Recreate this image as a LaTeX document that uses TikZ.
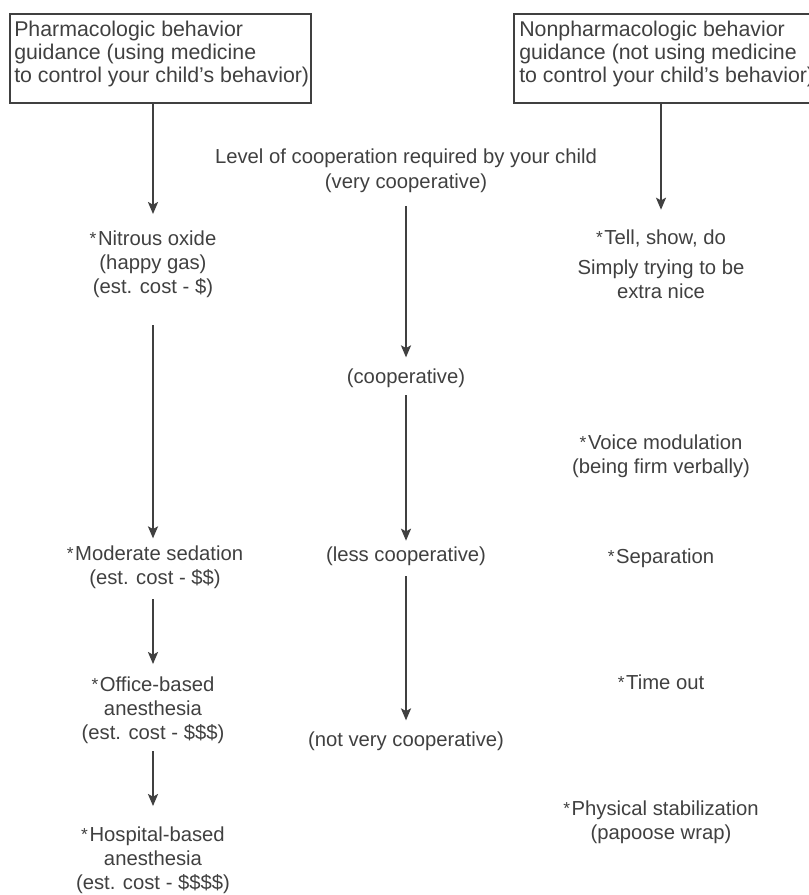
\documentclass[tikz,border=0pt]{standalone}
\usepackage{fontspec}
\setmainfont{Liberation Sans}
\usetikzlibrary{arrows.meta,calc}
\definecolor{cInk}{HTML}{404040}
\definecolor{cLine}{HTML}{404040}

% small raised asterisk in front of each technique
\newcommand{\starmark}{\raisebox{0.6pt}{\fontsize{13}{13}\selectfont *}\kern1.2pt}

\begin{document}
\begin{tikzpicture}[
  x=0.75pt, y=-0.75pt,
  font=\fontsize{15.2}{18}\selectfont,
  flow/.style={draw=cLine, line width=1.5pt,
    -{Stealth[length=9pt,width=7.5pt,inset=2pt]}},
  guidebox/.style={draw=cLine, line width=1.5pt, minimum width=225.75pt,
    minimum height=66.75pt, inner sep=0pt, outer sep=0pt},
  boxlab/.style={text=cInk, align=left, inner sep=0pt,
    font=\fontsize{16}{17.25}\selectfont},
  item/.style={text=cInk, align=center, inner sep=0pt, anchor=base},
]
\useasboundingbox (0,0) rectangle (809,895);

% ---- Guidance boxes (top) ----
% (base anchor of a multi-line node = baseline of its last line)
\node[guidebox, anchor=north west] (pharm) at (10,14) {};
\node[boxlab, anchor=base west] (pharmlab) at (14,83)
  {Pharmacologic behavior\\guidance (using medicine\\to control your child’s behavior)};

\node[guidebox, anchor=north west] (nonpharm) at (514,14) {};
\node[boxlab, anchor=base west] (nonpharmlab) at (519,83)
  {Nonpharmacologic behavior\\guidance (not using medicine\\to control your child’s behavior)};

% ---- Left column: medicine ----
\node[item] (nitrous) at (153,293) {\starmark Nitrous oxide\\(happy gas)\\(est. cost - \$)};
\node[item] (moderate) at (155,584) {\starmark Moderate sedation\\(est. cost - \$\$)};
\node[item] (office) at (153,739) {\starmark Office-based\\anesthesia\\(est. cost - \$\$\$)};
\node[item] (hospital) at (153,889) {\starmark Hospital-based\\anesthesia\\(est. cost - \$\$\$\$)};

% ---- Middle column: cooperation scale ----
\node[item] (level) at (406,188) {Level of cooperation required by your child\\(very cooperative)};
\node[item] (coop) at (406,383) {(cooperative)};
\node[item] (lesscoop) at (406,561) {(less cooperative)};
\node[item] (notcoop) at (406,746) {(not very cooperative)};

% ---- Right column: no medicine ----
\node[item] (tell) at (661,298) {\starmark Tell, show, do\\[4pt]Simply trying to be\\extra nice};
\node[item] (voice) at (661,473) {\starmark Voice modulation\\(being firm verbally)};
\node[item] (separation) at (661,563) {\starmark Separation};
\node[item] (timeout) at (661,689) {\starmark Time out};
\node[item] (physical) at (661,839) {\starmark Physical stabilization\\(papoose wrap)};

% ---- Arrows ----
\draw[flow, shorten >=12pt] (pharm.south -| nitrous.north) -- (nitrous.north);
\draw[flow, shorten <=21pt, shorten >=5pt] (nitrous.south) -- (moderate.north -| nitrous.south);
\draw[flow, shorten <=8pt, shorten >=9pt] (moderate.south -| office.north) -- (office.north);
\draw[flow, shorten <=6pt, shorten >=15pt] (office.south) -- (hospital.north);

\draw[flow, shorten <=10pt, shorten >=8pt] (level.south) -- (coop.north);
\draw[flow, shorten <=6pt, shorten >=4pt] (coop.south) -- (lesscoop.north);
\draw[flow, shorten <=8pt, shorten >=8pt] (lesscoop.south) -- (notcoop.north);

\draw[flow, shorten >=15pt] (nonpharm.south -| tell.north) -- (tell.north);

\end{tikzpicture}
\end{document}
